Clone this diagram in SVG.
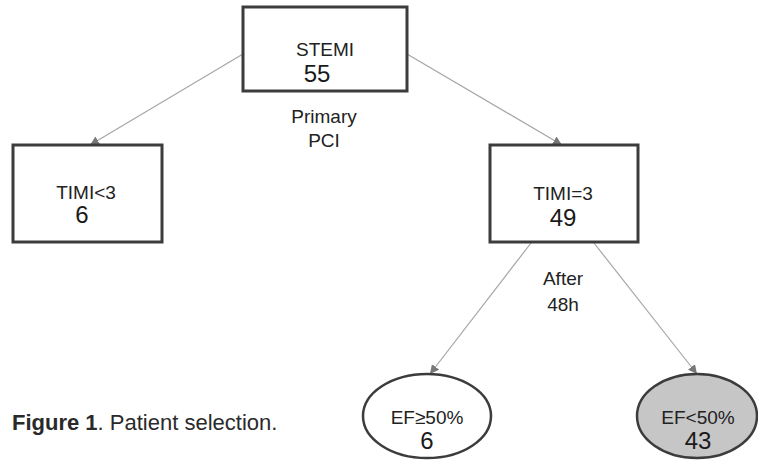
<svg xmlns="http://www.w3.org/2000/svg" width="758" height="462" viewBox="0 0 758 462">
<defs>
<marker id="ah" viewBox="0 0 10 10" refX="10" refY="5" markerWidth="9" markerHeight="9" markerUnits="userSpaceOnUse" orient="auto">
<path d="M0,0 L10,5 L0,10 z" fill="#777"/>
</marker>
<style>
.box{fill:#fff;stroke:#3c3c3c;stroke-width:3}
.ell{stroke:#3c3c3c;stroke-width:2.5}
.lbl{font-family:"Liberation Sans",Arial,sans-serif;font-size:19px;fill:#222;text-anchor:middle}
.num{font-family:"Liberation Sans",Arial,sans-serif;font-size:24px;fill:#1a1a1a;text-anchor:middle}
.edge{stroke:#a6a6a6;stroke-width:1.2;fill:none;marker-end:url(#ah)}
.cap{font-family:"Liberation Sans",Arial,sans-serif;font-size:22px;fill:#2a2a2a}
</style>
</defs>
<rect width="758" height="462" fill="#fff"/>
<g id="connectors">
<line class="edge" x1="243" y1="54" x2="90" y2="145"/>
<line class="edge" x1="407" y1="54" x2="562" y2="145"/>
<line class="edge" x1="531" y1="243" x2="430" y2="374"/>
<line class="edge" x1="594" y1="243" x2="697" y2="374"/>
</g>
<g id="stemi">
<rect class="box" x="243" y="7" width="164" height="84"/>
<text class="lbl" x="325" y="56">STEMI</text>
<text class="num" x="317" y="82">55</text>
</g>
<g id="pci-label">
<text class="lbl" x="324" y="123">Primary</text>
<text class="lbl" x="324" y="147">PCI</text>
</g>
<g id="timi-lt3">
<rect class="box" x="13" y="145" width="149" height="97"/>
<text class="lbl" x="86" y="199">TIMI&lt;3</text>
<text class="num" x="82" y="223">6</text>
</g>
<g id="timi-eq3">
<rect class="box" x="490" y="145" width="148" height="97"/>
<text class="lbl" x="563" y="200">TIMI=3</text>
<text class="num" x="563" y="226">49</text>
</g>
<g id="after-label">
<text class="lbl" x="563" y="285">After</text>
<text class="lbl" x="563" y="311">48h</text>
</g>
<g id="ef-ge50">
<ellipse class="ell" cx="427" cy="416" rx="64" ry="42" fill="#fff"/>
<text class="lbl" x="427" y="424">EF≥50%</text>
<text class="num" x="427" y="449">6</text>
</g>
<g id="ef-lt50">
<ellipse class="ell" cx="697" cy="416" rx="60" ry="42" fill="#c6c6c6"/>
<text class="lbl" x="698" y="424">EF&lt;50%</text>
<text class="num" x="698" y="449">43</text>
</g>
<g id="caption">
<text class="cap" x="12" y="430"><tspan font-weight="bold">Figure 1</tspan>. Patient selection.</text>
</g>
</svg>
